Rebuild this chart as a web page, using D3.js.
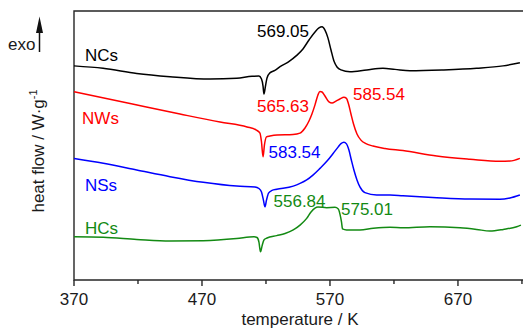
<!DOCTYPE html>
<html>
<head>
<meta charset="utf-8">
<script src="https://cdn.jsdelivr.net/npm/d3@7"></script>
<style>
  html, body { margin: 0; padding: 0; background: #fff; }
  svg { display: block; font-family: "Liberation Sans", Arial, sans-serif; }
</style>
</head>
<body>
<svg id="chart" width="523" height="328"></svg>
<script>
// DSC traces (temperature in K, heat flow offset in arbitrary units)
const ncs = [
  [370.0,7.96],[392.7,7.87],[419.0,7.68],[445.0,7.56],[476.3,7.47],[497.1,7.50],
  [509.1,7.57],[514.5,7.58],[516.5,7.47],[517.7,7.21],[518.4,6.91],[519.6,7.21],
  [520.8,7.51],[523.1,7.70],[527.0,7.79],[531.0,7.93],[537.3,8.10],[544.0,8.35],
  [548.9,8.59],[553.6,8.92],[558.3,9.22],[561.4,9.37],[563.8,9.41],[566.1,9.29],
  [568.4,9.00],[570.8,8.55],[573.1,8.14],[575.5,7.92],[578.6,7.81],[585.6,7.74],
  [598.7,7.81],[611.4,7.87],[620.8,7.83],[632.5,7.78],[658.3,7.81],[684.6,7.87],
  [705.2,7.96],[718.4,8.08]
];
const nws = [
  [370.0,7.00],[413.8,6.56],[452.8,6.17],[484.1,5.87],[505.2,5.69],[512.2,5.58],
  [515.3,5.46],[516.5,5.13],[517.7,4.58],[518.8,5.02],[520.4,5.32],[523.1,5.35],
  [528.6,5.39],[541.1,5.41],[546.6,5.46],[550.5,5.65],[553.6,5.91],[555.9,6.17],
  [558.3,6.51],[560.6,6.88],[562.2,7.01],[563.8,6.99],[566.1,6.84],[569.2,6.62],
  [571.6,6.58],[574.7,6.65],[577.8,6.73],[580.9,6.79],[582.9,6.75],[584.5,6.54],
  [586.4,6.17],[588.4,5.80],[591.1,5.43],[594.2,5.20],[598.1,5.07],[603.6,4.98],
  [613.0,4.89],[627.0,4.81],[653.4,4.61],[679.4,4.49],[702.8,4.41],[710.6,4.42],
  [718.4,4.52]
];
const nss = [
  [370.0,4.52],[392.9,4.34],[419.0,4.09],[445.0,3.84],[471.0,3.63],[497.1,3.49],
  [511.4,3.46],[514.5,3.40],[516.5,3.27],[518.0,2.97],[519.2,2.72],[520.4,2.97],
  [522.0,3.23],[524.7,3.33],[528.4,3.37],[541.3,3.49],[546.6,3.59],[551.8,3.72],
  [556.7,3.90],[562.2,4.15],[567.7,4.42],[572.6,4.71],[576.3,4.94],[578.6,5.07],
  [580.9,5.12],[582.9,5.06],[584.8,4.83],[586.7,4.46],[588.7,4.09],[591.1,3.72],
  [593.4,3.46],[597.3,3.25],[606.5,3.16],[616.9,3.16],[627.0,3.13],[653.4,3.06],
  [679.4,3.01],[702.8,3.00],[710.6,3.05],[718.4,3.16]
];
const hcs = [
  [370.0,1.61],[392.9,1.59],[419.0,1.51],[445.0,1.45],[471.0,1.46],[497.1,1.54],
  [510.6,1.61],[513.0,1.58],[514.5,1.41],[515.7,1.05],[516.9,1.26],[518.4,1.49],
  [520.8,1.56],[528.4,1.65],[534.9,1.73],[541.3,1.86],[546.6,2.04],[551.8,2.29],
  [555.2,2.53],[558.3,2.67],[560.6,2.71],[567.4,2.69],[573.9,2.70],[576.5,2.64],
  [577.8,2.45],[579.0,2.16],[579.8,1.90],[583.0,1.86],[593.4,1.86],[603.8,1.92],
  [616.9,1.96],[627.3,1.94],[648.1,1.98],[671.6,1.94],[684.6,1.88],[695.0,1.82],
  [705.4,1.88],[715.9,1.98],[719.2,2.04]
];

// sample names and where their labels sit [T, heat flow]
const sampleNames = ["NCs", "NWs", "NSs", "HCs"];
const sampleColors = ["#000000", "#ff0000", "#0000ff", "#138a13"];
const nameAnchors = [[378.6, 8.14], [376.3, 5.80], [378.6, 3.31], [378.6, 1.71]];

// peak temperature annotations and their anchors [T, heat flow]
const peakLabels = ["569.05", "565.63", "585.54", "583.54", "556.84", "575.01"];
const peakAnchors = [[513.0, 9.03], [513.0, 6.25], [588.0, 6.69], [522.0, 4.54], [525.9, 2.71], [578.6, 2.40]];
const peakSeries = [0, 1, 1, 2, 3, 3];

const xTicks = [370, 470, 570, 670];
const xMinorTicks = [420, 520, 620, 720];

const series = [ncs, nws, nss, hcs];

const svg = d3.select("#chart");
const mLeft = 74, mTop = 11, mBottom = 280;
const x = d3.scaleLinear().domain([370, 721.6]).range([mLeft, 524]);
const y = d3.scaleLinear().domain([0, 10]).range([mBottom, mTop]);

// plot frame (right side runs past the edge)
svg.append("path")
  .attr("d", `M${x.range()[1] + 5},${mTop}H${mLeft}V${mBottom}H${x.range()[1] + 5}`)
  .attr("fill", "none").attr("stroke", "#262626").attr("stroke-width", 1.4);

// x axis ticks and labels
const xAxis = svg.append("g").attr("transform", `translate(0,${mBottom})`);
xAxis.selectAll("line.major").data(xTicks).join("line")
  .attr("class", "major")
  .attr("x1", d => x(d)).attr("x2", d => x(d)).attr("y1", 0).attr("y2", 6)
  .attr("stroke", "#262626").attr("stroke-width", 1.4);
xAxis.selectAll("line.minor").data(xMinorTicks.filter(d => x(d) <= 523)).join("line")
  .attr("class", "minor")
  .attr("x1", d => x(d)).attr("x2", d => x(d)).attr("y1", 0).attr("y2", 4)
  .attr("stroke", "#262626").attr("stroke-width", 1.4);
xAxis.selectAll("text").data(xTicks).join("text")
  .attr("x", d => x(d)).attr("y", 25)
  .attr("text-anchor", "middle").attr("font-size", 17).attr("fill", "#1a1a1a")
  .text(d => d);

svg.append("text")
  .attr("x", 300).attr("y", 325)
  .attr("text-anchor", "middle").attr("font-size", 17).attr("fill", "#1a1a1a")
  .text("temperature / K");

// y axis title with superscript
const yTitle = svg.append("text")
  .attr("transform", "translate(44,151) rotate(-90)")
  .attr("text-anchor", "middle").attr("font-size", 17).attr("fill", "#1a1a1a");
yTitle.append("tspan").text("heat flow / W·g");
yTitle.append("tspan").attr("font-size", 11).attr("dy", -7).text("-1");

// exo marker
svg.append("text").attr("x", 8).attr("y", 50).attr("font-size", 17).attr("fill", "#1a1a1a").text("exo");
svg.append("line").attr("x1", 39.5).attr("x2", 39.5).attr("y1", 52).attr("y2", 28)
  .attr("stroke", "#111").attr("stroke-width", 1.5);
svg.append("path").attr("d", "M39.5,16.5L43,33L36,33Z").attr("fill", "#111");

// traces
const line = d3.line().x(d => x(d[0])).y(d => y(d[1])).curve(d3.curveMonotoneX);
svg.selectAll("path.trace").data(series).join("path")
  .attr("class", "trace")
  .attr("d", line)
  .attr("fill", "none")
  .attr("stroke", (d, i) => sampleColors[i])
  .attr("stroke-width", 1.5)
  .attr("stroke-linejoin", "round");

// sample names
svg.selectAll("text.name").data(sampleNames).join("text")
  .attr("class", "name")
  .attr("x", (d, i) => x(nameAnchors[i][0]))
  .attr("y", (d, i) => y(nameAnchors[i][1]))
  .attr("font-size", 17)
  .attr("fill", (d, i) => sampleColors[i])
  .text(d => d);

// peak temperatures
svg.selectAll("text.peak").data(peakLabels).join("text")
  .attr("class", "peak")
  .attr("x", (d, i) => x(peakAnchors[i][0]))
  .attr("y", (d, i) => y(peakAnchors[i][1]))
  .attr("font-size", 17)
  .attr("fill", (d, i) => sampleColors[peakSeries[i]])
  .text(d => d);
</script>
</body>
</html>
